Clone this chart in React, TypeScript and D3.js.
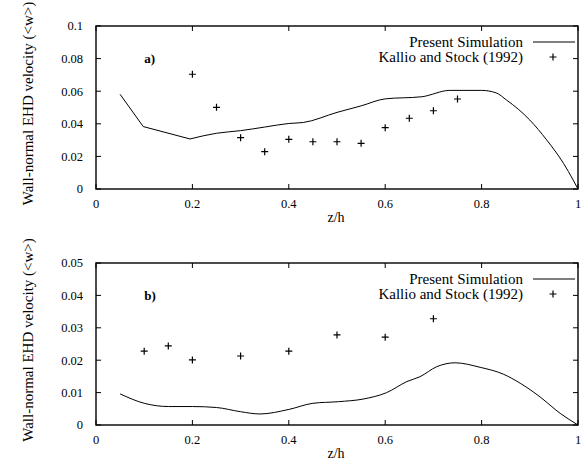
import React, { useRef, useEffect } from 'react';
import * as d3 from 'd3';

// x axis (shared)
const zTicks = [0, 0.2, 0.4, 0.6, 0.8, 1];
const zTickLabels = ['0', '0.2', '0.4', '0.6', '0.8', '1'];

// panel a)
const yTicksA = [0, 0.02, 0.04, 0.06, 0.08, 0.1];
const yTickLabelsA = ['0', '0.02', '0.04', '0.06', '0.08', '0.1'];
const simZA = [0.05, 0.098, 0.195, 0.25, 0.3, 0.35, 0.4, 0.43, 0.5, 0.55, 0.6, 0.676, 0.734, 0.8, 0.83, 0.852, 0.876, 0.9, 0.935, 0.97, 0.99, 1.0];
const simWA = [0.0581, 0.0383, 0.0307, 0.0342, 0.0358, 0.038, 0.0402, 0.0408, 0.047, 0.051, 0.0553, 0.0566, 0.0605, 0.0605, 0.059, 0.0545, 0.049, 0.0423, 0.0301, 0.0157, 0.0055, 0.0];
const expZA = [0.2, 0.25, 0.3, 0.35, 0.4, 0.45, 0.5, 0.55, 0.6, 0.65, 0.7, 0.75];
const expWA = [0.0704, 0.0501, 0.0315, 0.0229, 0.0305, 0.029, 0.029, 0.028, 0.0376, 0.0434, 0.048, 0.0552];

// panel b)
const yTicksB = [0, 0.01, 0.02, 0.03, 0.04, 0.05];
const yTickLabelsB = ['0', '0.01', '0.02', '0.03', '0.04', '0.05'];
const simZB = [0.05, 0.1, 0.15, 0.2, 0.25, 0.3, 0.34, 0.4, 0.45, 0.503, 0.554, 0.603, 0.645, 0.672, 0.707, 0.745, 0.797, 0.845, 0.88, 0.921, 0.963, 1.0];
const simWB = [0.0096, 0.0067, 0.0057, 0.0057, 0.0054, 0.0041, 0.0034, 0.0048, 0.0067, 0.0072, 0.008, 0.010, 0.0134, 0.0149, 0.018, 0.0192, 0.0178, 0.0157, 0.0129, 0.0087, 0.0036, 0.0];
const expZB = [0.1, 0.15, 0.2, 0.3, 0.4, 0.5, 0.6, 0.7];
const expWB = [0.0228, 0.0244, 0.0201, 0.0213, 0.0228, 0.0278, 0.0271, 0.0328];

const legendSim = 'Present Simulation';
const legendExp = 'Kallio and Stock (1992)';
const xLabel = 'z/h';
const yLabel = 'Wall-normal EHD velocity (<w>)';

const FONT = '"Liberation Serif", "Times New Roman", serif';

const App = () => {
  const svgRef = useRef(null);

  useEffect(() => {
    const svg = d3.select(svgRef.current);
    svg.selectAll('*').remove();

    // sharpIdx: points up to this index are joined with straight segments,
    // the rest with a smooth curve
    const drawPanel = (top, bottom, yMax, yTicks, yLabels, simZ, simW, expZ, expW, tag, sharpIdx) => {
      const left = 96;
      const right = 578;
      const x = d3.scaleLinear().domain([0, 1]).range([left, right]);
      const y = d3.scaleLinear().domain([0, yMax]).range([bottom, top]);
      const g = svg.append('g');
      const tick = 5;

      // frame
      g.append('rect')
        .attr('x', left).attr('y', top)
        .attr('width', right - left).attr('height', bottom - top)
        .attr('fill', 'none').attr('stroke', '#000').attr('stroke-width', 1.4);

      // y ticks, mirrored
      yTicks.forEach((v, i) => {
        g.append('line').attr('x1', left).attr('x2', left + tick)
          .attr('y1', y(v)).attr('y2', y(v)).attr('stroke', '#000');
        g.append('line').attr('x1', right).attr('x2', right - tick)
          .attr('y1', y(v)).attr('y2', y(v)).attr('stroke', '#000');
        g.append('text').attr('x', left - 13).attr('y', y(v))
          .attr('dy', '0.35em').attr('text-anchor', 'end')
          .style('font-family', FONT).style('font-size', '12.5px')
          .text(yLabels[i]);
      });

      // x ticks, mirrored
      zTicks.forEach((v, i) => {
        g.append('line').attr('x1', x(v)).attr('x2', x(v))
          .attr('y1', bottom).attr('y2', bottom - tick).attr('stroke', '#000');
        g.append('line').attr('x1', x(v)).attr('x2', x(v))
          .attr('y1', top).attr('y2', top + tick).attr('stroke', '#000');
        g.append('text').attr('x', x(v)).attr('y', bottom + 19)
          .attr('text-anchor', 'middle')
          .style('font-family', FONT).style('font-size', '12.5px')
          .text(zTickLabels[i]);
      });

      // axis titles
      g.append('text').attr('x', (left + right) / 2 - 1).attr('y', bottom + 33)
        .attr('text-anchor', 'middle')
        .style('font-family', FONT).style('font-size', '14px')
        .text(xLabel);
      g.append('text')
        .attr('transform', `translate(33,${(top + bottom) / 2 - 4}) rotate(-90)`)
        .attr('text-anchor', 'middle')
        .style('font-family', FONT).style('font-size', '15px')
        .text(yLabel);

      // panel tag
      g.append('text').attr('x', x(0.1)).attr('y', y(yMax * 0.8)).attr('dy', '0.35em')
        .style('font-family', FONT).style('font-size', '13px').style('font-weight', 'bold')
        .text(tag);

      // simulation line
      const pts = simZ.map((z, i) => [z, simW[i]]);
      const straight = d3.line().x(d => x(d[0])).y(d => y(d[1])).curve(d3.curveLinear);
      const smooth = d3.line().x(d => x(d[0])).y(d => y(d[1])).curve(d3.curveMonotoneX);
      if (sharpIdx > 0) {
        g.append('path').datum(pts.slice(0, sharpIdx + 1)).attr('d', straight)
          .attr('fill', 'none').attr('stroke', '#000').attr('stroke-width', 1);
      }
      g.append('path').datum(pts.slice(sharpIdx)).attr('d', smooth)
        .attr('fill', 'none').attr('stroke', '#000').attr('stroke-width', 1);

      // experimental points
      const plus = (px, py) => {
        const s = 3.5;
        g.append('path')
          .attr('d', `M${px - s},${py}H${px + s}M${px},${py - s}V${py + s}`)
          .attr('stroke', '#000').attr('stroke-width', 1.2).attr('fill', 'none');
      };
      expZ.forEach((z, i) => plus(x(z), y(expW[i])));

      // legend
      const ly1 = top + 16;
      const ly2 = top + 31;
      g.append('text').attr('x', 523).attr('y', ly1).attr('dy', '0.35em')
        .attr('text-anchor', 'end')
        .style('font-family', FONT).style('font-size', '15px')
        .text(legendSim);
      g.append('line').attr('x1', 533).attr('x2', 575)
        .attr('y1', ly1).attr('y2', ly1).attr('stroke', '#000');
      g.append('text').attr('x', 523).attr('y', ly2).attr('dy', '0.35em')
        .attr('text-anchor', 'end')
        .style('font-family', FONT).style('font-size', '15px')
        .text(legendExp);
      plus(553, ly2);
    };

    drawPanel(26, 189, 0.1, yTicksA, yTickLabelsA, simZA, simWA, expZA, expWA, 'a)', 2);
    drawPanel(263, 425, 0.05, yTicksB, yTickLabelsB, simZB, simWB, expZB, expWB, 'b)', 0);
  }, []);

  return (
    <svg
      ref={svgRef}
      width={585}
      height={472}
      style={{ position: 'absolute', left: 0, top: 0, background: '#fff' }}
    />
  );
};

export default App;
